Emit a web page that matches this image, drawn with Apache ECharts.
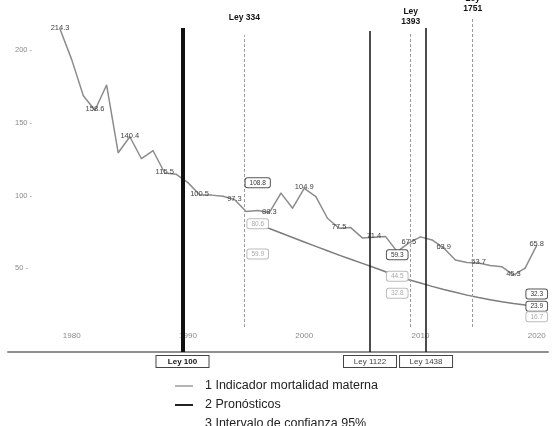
<!DOCTYPE html>
<html>
<head>
<meta charset="utf-8">
<script src="https://cdn.jsdelivr.net/npm/echarts@6/dist/echarts.min.js"></script>
<style>
html,body{margin:0;padding:0;background:#fff;}
#chart{width:559px;height:426px;}
</style>
</head>
<body>
<div id="chart"></div>
<script>
// ---- data ----
const years = [1979,1980,1981,1982,1983,1984,1985,1986,1987,1988,1989,1990,1991,1992,1993,1994,1995,1996,1997,1998,1999,2000,2001,2002,2003,2004,2005,2006,2007,2008,2009,2010,2011,2012,2013,2014,2015,2016,2017,2018,2019,2020];
const mortalidad = [214.3,193.4,168.6,158.6,176.0,129.4,140.4,125.3,130.8,115.5,114.6,108.9,100.5,100.3,99.5,97.3,89.0,89.7,88.3,101.7,91.3,104.9,99.3,84.4,77.5,78.0,70.9,71.4,71.8,61.5,67.5,71.6,69.5,63.9,55.7,54.0,53.7,52.0,51.1,45.3,50.2,65.8];
const mortalidadLabelYears = [1979,1982,1985,1988,1991,1994,1997,2000,2003,2006,2009,2012,2015,2018,2020];

const forecastYears = [1996,1997,1998,1999,2000,2001,2002,2003,2004,2005,2006,2007,2008,2009,2010,2011,2012,2013,2014,2015,2016,2017,2018,2019,2020];
const pronostico = [80.6,77.4,74.3,71.2,68.1,65.1,62.1,59.1,56.2,53.4,50.6,47.6,44.5,42.1,39.9,37.6,35.5,33.5,31.6,29.9,28.4,27.0,25.8,24.8,23.9];
const intervalYears = [1996,2008,2020];
const intervaloSup = [108.8,59.3,32.3];
const intervaloInf = [59.9,32.8,16.7];

const leyes = ['Ley 100','Ley 334','Ley 1122','Ley 1393','Ley 1438','Ley 1751'];
const leyYears = [1989.53,1994.85,2005.66,2009.16,2010.48,2014.49];

const xTickLabels = ['1980','1990','2000','2010','2020'];
const yTickLabels = ['50','100','150','200'];

const seriesNames = ['1 Indicador mortalidad materna','2 Pronósticos','3 Intervalo de confianza 95%'];

// ---- styles ----
const FONT = '"Liberation Sans", Arial, sans-serif';
const leyStyle = {
  'Ley 100':  {kind:'solid',  width:4,   top:215.1, bottom:-7.49, labelPos:'start', bold:true},
  'Ley 334':  {kind:'dashed', width:1,   top:210.3, bottom:9.7,  labelPos:'end', dist:12, text:'Ley 334'},
  'Ley 1122': {kind:'solid',  width:1.5, top:213.1, bottom:-7.49, labelPos:'start', bold:false},
  'Ley 1393': {kind:'dashed', width:1,   top:212.4, bottom:9.7,  labelPos:'end', dist:5, text:'Ley\n1393'},
  'Ley 1438': {kind:'solid',  width:1.5, top:215.1, bottom:-7.49, labelPos:'start', bold:false},
  'Ley 1751': {kind:'dashed', width:1,   top:222.0, bottom:9.7,  labelPos:'end', dist:4, text:'Ley\n1751'}
};

const markLineData = leyes.map((name, i) => {
  const s = leyStyle[name];
  const yr = leyYears[i];
  let label;
  if (s.labelPos === 'start') {
    label = {show:true, position:'start', distance:4, formatter:name,
      fontFamily:FONT, fontSize:8, fontWeight: s.bold ? 'bold' : 'normal',
      color: s.bold ? '#111' : '#444',
      backgroundColor:'#fff', borderColor:'#444', borderWidth:1,
      width:40, align:'center', padding:[2,6,1,6]};
  } else {
    label = {show:true, position:'end', distance:s.dist, formatter:s.text,
      fontFamily:FONT, fontSize:8.5, fontWeight:'bold', color:'#111', lineHeight:10, align:'center'};
  }
  const lineStyle = s.kind === 'solid'
    ? {color:'#111', width:s.width, type:'solid'}
    : {color:'#9a9a9a', width:1, type:[3,2]};
  return [
    {coord:[yr, s.bottom], lineStyle, label},
    {coord:[yr, s.top]}
  ];
});

function boxRich() {
  const base = {fontFamily:FONT, fontSize:6.5, padding:[1,4,1,4], borderRadius:2, borderWidth:1, backgroundColor:'#fff'};
  return {
    d: Object.assign({}, base, {color:'#333', borderColor:'#555'}),
    l: Object.assign({}, base, {color:'#aaa', borderColor:'#bbb'})
  };
}

const chart = echarts.init(document.getElementById('chart'), null, {renderer:'canvas'});
const option = {
  animation:false,
  backgroundColor:'#fff',
  grid:{left:8, right:11, top:10, bottom:74},
  legend:{
    orient:'vertical', left:175, top:379, height:80, padding:0, itemGap:5,
    itemWidth:18, itemHeight:2, icon:'rect',
    textStyle:{fontFamily:FONT, fontSize:12.5, color:'#222', padding:[0,0,0,7], lineHeight:14},
    data:[
      {name:seriesNames[0], itemStyle:{color:'#b5b5b5'}},
      {name:seriesNames[1], itemStyle:{color:'#222'}},
      {name:seriesNames[2], itemStyle:{color:'rgba(0,0,0,0)'}}
    ]
  },
  xAxis:{
    type:'value', min:1974.52, max:2020.97,
    axisLine:{show:true, onZero:false, lineStyle:{color:'#8f8f8f', width:2}},
    axisTick:{show:false},
    splitLine:{show:false},
    axisLabel:{inside:true, margin:12, color:'#8a8a8a', fontSize:8, fontFamily:FONT,
      showMinLabel:false, showMaxLabel:false,
      formatter:v => xTickLabels.includes(String(Math.round(v))) && Math.abs(v-Math.round(v))<1e-6 ? String(Math.round(v)) : ''}
  },
  yAxis:{
    type:'value', min:-7.49, max:227.5,
    axisLine:{show:false}, axisTick:{show:false}, splitLine:{show:false},
    axisLabel:{inside:true, margin:7, color:'#8a8a8a', fontSize:7.5, fontFamily:FONT,
      formatter:v => yTickLabels.includes(String(v)) ? v + ' -' : ''}
  },
  series:[
    {
      name:seriesNames[0], type:'line', z:3,
      data: years.map((y,i)=>[y, mortalidad[i]]),
      symbol:'circle', symbolSize:1, showSymbol:true,
      itemStyle:{color:'#8c8c8c'},
      lineStyle:{color:'#8c8c8c', width:1.5},
      label:{show:true, position:'inside', offset:[0,-1], fontFamily:FONT, fontSize:7.5, color:'#444',
        formatter:p => mortalidadLabelYears.includes(p.value[0]) ? p.value[1].toFixed(1) : ''},
      markLine:{silent:true, symbol:['none','none'], animation:false, data:markLineData}
    },
    {
      name:seriesNames[1], type:'line', z:4,
      data: forecastYears.map((y,i)=>[y, pronostico[i]]),
      symbol:'circle', symbolSize:1, showSymbol:true,
      itemStyle:{color:'#7d7d7d'},
      lineStyle:{color:'#7d7d7d', width:1.5},
      label:{show:true, position:'inside', rich:boxRich(),
        formatter:p => intervalYears.includes(p.value[0]) ? '{' + (p.value[0] === 2020 ? 'd' : 'l') + '|' + p.value[1].toFixed(1) + '}' : ''}
    },
    {
      name:seriesNames[2], type:'line', z:5,
      data: intervalYears.map((y,i)=>[y, intervaloSup[i]]),
      symbol:'circle', symbolSize:1, showSymbol:true,
      itemStyle:{color:'rgba(0,0,0,0)'},
      lineStyle:{opacity:0},
      label:{show:true, position:'inside', rich:boxRich(),
        formatter:p => '{d|' + p.value[1].toFixed(1) + '}'}
    },
    {
      name:seriesNames[2], type:'line', z:5,
      data: intervalYears.map((y,i)=>[y, intervaloInf[i]]),
      symbol:'circle', symbolSize:1, showSymbol:true,
      itemStyle:{color:'rgba(0,0,0,0)'},
      lineStyle:{opacity:0},
      label:{show:true, position:'inside', rich:boxRich(),
        formatter:p => '{l|' + p.value[1].toFixed(1) + '}'}
    }
  ]
};
chart.setOption(option);
</script>
</body>
</html>
